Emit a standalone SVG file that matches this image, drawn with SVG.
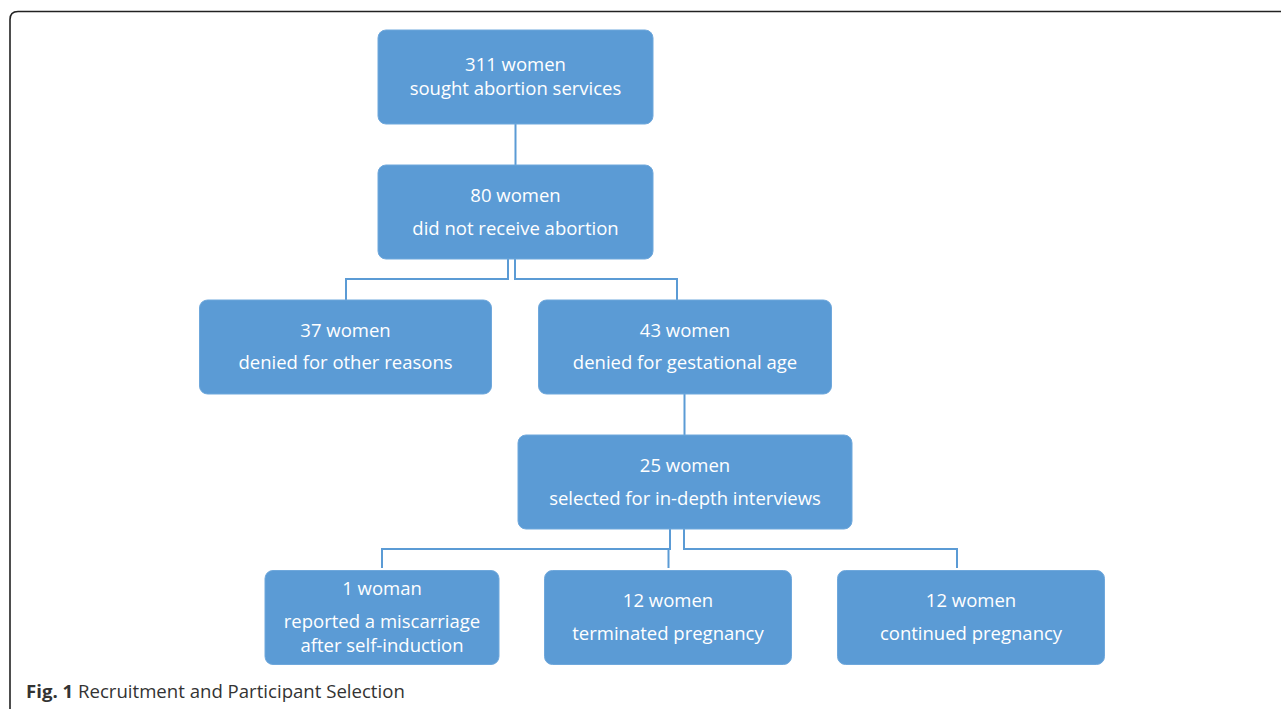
<svg xmlns="http://www.w3.org/2000/svg" width="1281" height="709" viewBox="0 0 1281 709">
<style>
.box{fill:#5B9BD5;stroke:#6FA8DC;stroke-width:1}
.t{font-family:"Open Sans","Liberation Sans",sans-serif;font-size:18.5px;fill:#ffffff;text-anchor:middle}
.c{fill:none;stroke:#5B9BD5;stroke-width:2}
.cap{font-family:"Open Sans","Liberation Sans",sans-serif;font-size:18.6px;fill:#333333}
</style>
<rect x="0" y="0" width="1281" height="709" fill="#ffffff"/>
<path d="M1290 11.5 H18 Q10 11.5 10 19.5 V720" fill="none" stroke="#222222" stroke-width="1.6"/>
<g id="connectors">
<path class="c" d="M515.5 124 V165"/>
<path class="c" d="M508 259 V279 H346 V300"/>
<path class="c" d="M515 259 V279 H677 V300"/>
<path class="c" d="M684.5 394 V435"/>
<path class="c" d="M670 529 V549 H382 V568"/>
<path class="c" d="M668.5 549 V568"/>
<path class="c" d="M684 529 V549 H957 V568"/>
</g>
<g id="n1"><rect class="box" x="378" y="30" width="275" height="94" rx="8"/>
<text class="t" x="515.5" y="71">311 women</text><text class="t" x="515.5" y="95">sought abortion services</text></g>
<g id="n2"><rect class="box" x="378" y="165" width="275" height="94" rx="8"/>
<text class="t" x="515.5" y="202">80 women</text><text class="t" x="515.5" y="235">did not receive abortion</text></g>
<g id="n3"><rect class="box" x="199.5" y="300" width="292" height="94" rx="8"/>
<text class="t" x="345.5" y="337">37 women</text><text class="t" x="345.5" y="369">denied for other reasons</text></g>
<g id="n4"><rect class="box" x="538.5" y="300" width="293" height="94" rx="8"/>
<text class="t" x="685" y="337">43 women</text><text class="t" x="685" y="369">denied for gestational age</text></g>
<g id="n5"><rect class="box" x="518" y="435" width="334" height="94" rx="8"/>
<text class="t" x="685" y="472">25 women</text><text class="t" x="685" y="505">selected for in-depth interviews</text></g>
<g id="n6"><rect class="box" x="265" y="570.5" width="234" height="94" rx="8"/>
<text class="t" x="382" y="595">1 woman</text><text class="t" x="382" y="628">reported a miscarriage</text><text class="t" x="382" y="652">after self-induction</text></g>
<g id="n7"><rect class="box" x="544.5" y="570.5" width="247" height="94" rx="8"/>
<text class="t" x="668" y="607">12 women</text><text class="t" x="668" y="640">terminated pregnancy</text></g>
<g id="n8"><rect class="box" x="837.5" y="570.5" width="267" height="94" rx="8"/>
<text class="t" x="971" y="607">12 women</text><text class="t" x="971" y="640">continued pregnancy</text></g>
<text class="cap" x="26" y="698"><tspan font-weight="bold">Fig. 1</tspan> Recruitment and Participant Selection</text>
</svg>
